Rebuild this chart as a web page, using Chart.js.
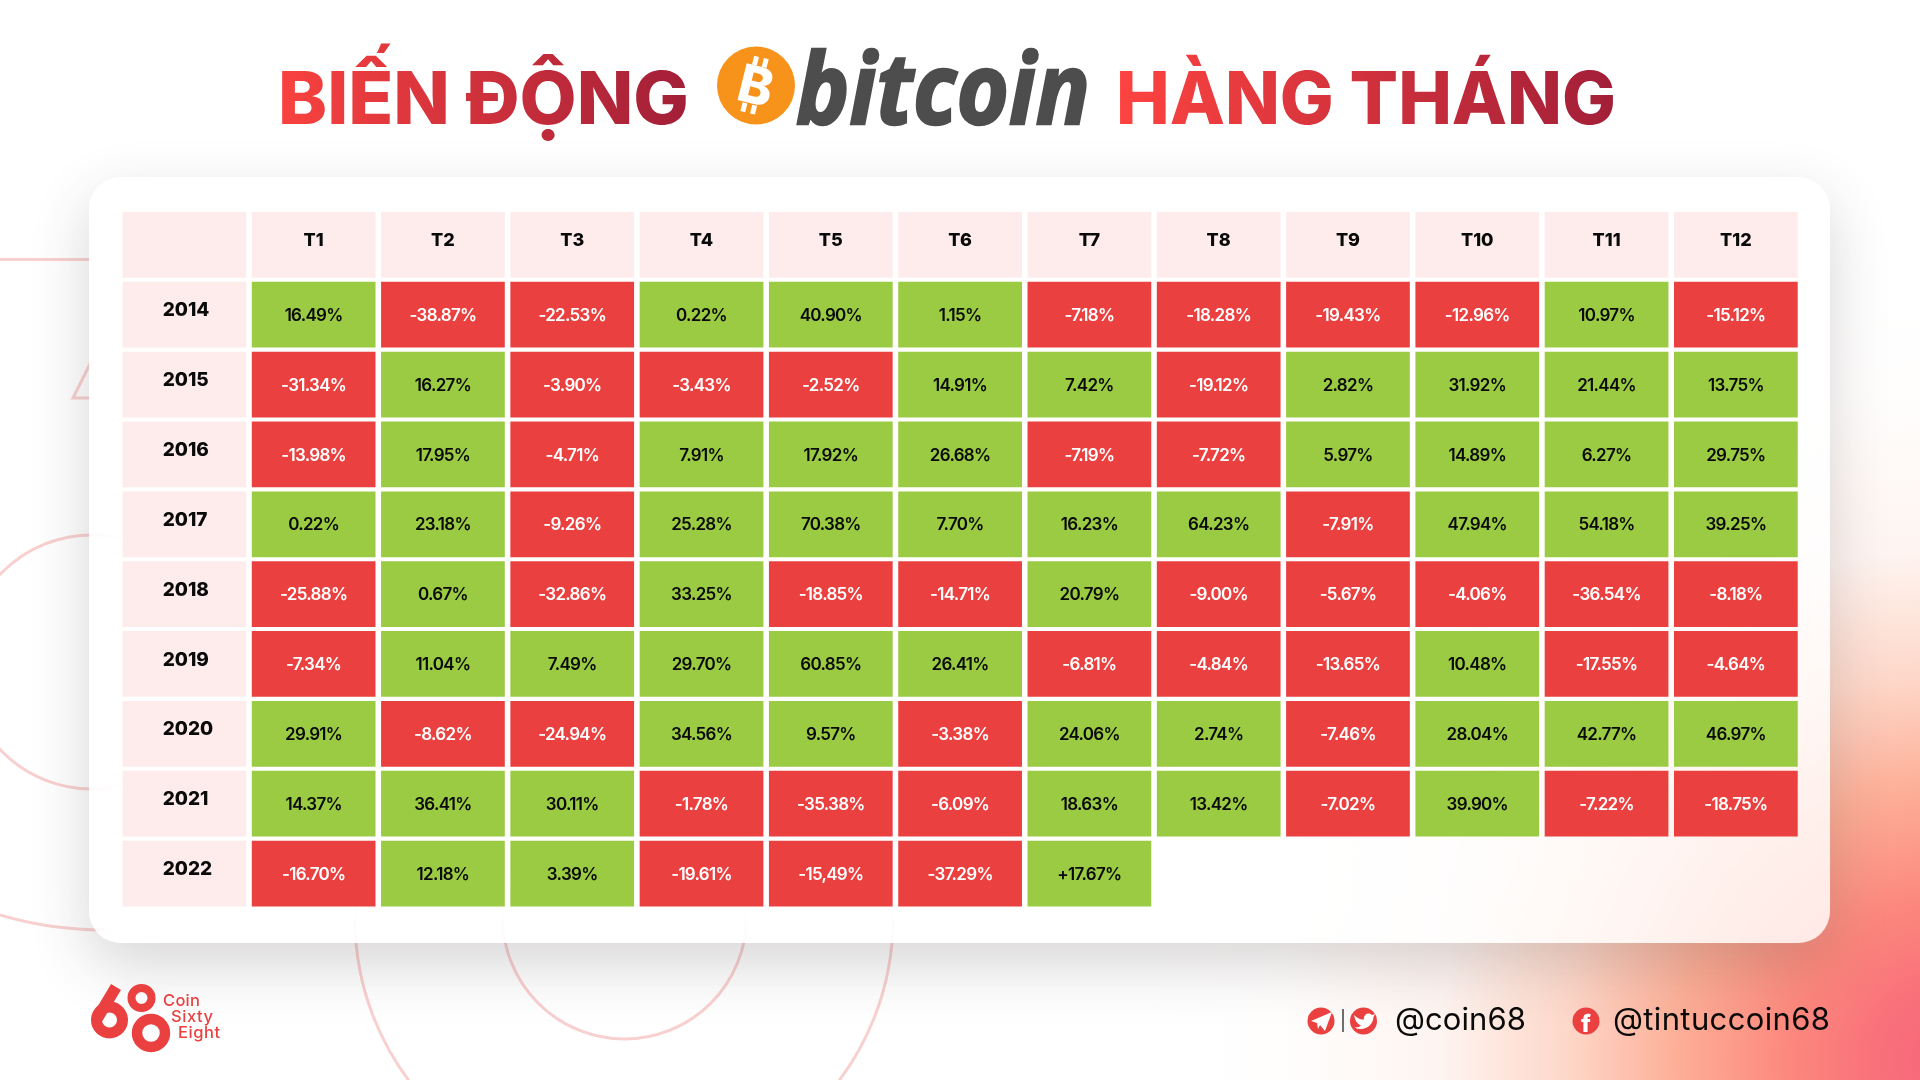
<!DOCTYPE html>
<html lang="vi"><head><meta charset="utf-8"><title>Biến động bitcoin hàng tháng</title>
<script src="https://cdn.jsdelivr.net/npm/chart.js@4"></script>
<style>
html,body{margin:0;padding:0;background:#fff;width:1920px;height:1080px;overflow:hidden}
#bg{position:absolute;left:0;top:0;width:1920px;height:1080px;background:
 radial-gradient(circle 800px at 1950px 1060px,#f7647c 0,#f9727a 10%,#fc8a7e 21%,rgba(253,170,145,.95) 34%,rgba(253,200,180,.72) 48%,rgba(253,225,215,.35) 64%,rgba(255,245,240,.1) 84%,rgba(255,255,255,0) 100%)}
svg.l{position:absolute;left:0;top:0}
#card{position:absolute;left:89px;top:177px;width:1741px;height:766px;border-radius:32px;background:rgba(255,255,255,.8);backdrop-filter:blur(40px);box-shadow:0 22px 60px rgba(60,50,50,.2),0 0 1px rgba(255,255,255,.4)}
#c{position:absolute;left:0;top:0}
</style></head><body>
<div id="bg"></div>
<svg class="l" width="1920" height="1080" fill="none" stroke="#f9d0d0" stroke-width="3">
 <line x1="0" y1="259.5" x2="95" y2="259.5"/>
 <polyline points="92,360 73,398 95,398"/>
 <circle cx="92" cy="662" r="127"/>
 <path d="M0 915 Q50 930 105 930"/>
 <circle cx="624" cy="919" r="269"/>
 <circle cx="624.5" cy="917" r="122"/>
</svg>
<div id="card"></div>
<canvas id="c" width="1920" height="1080" style="width:1920px;height:1080px"></canvas>
<svg class="l" width="1920" height="1080">
 <defs>
  <linearGradient id="g1" gradientUnits="userSpaceOnUse" x1="280" y1="0" x2="687" y2="0"><stop offset="0" stop-color="#f9423f"/><stop offset="1" stop-color="#a21f38"/></linearGradient>
  <linearGradient id="g2" gradientUnits="userSpaceOnUse" x1="1119" y1="0" x2="1615" y2="0"><stop offset="0" stop-color="#fd4340"/><stop offset="1" stop-color="#a21f38"/></linearGradient>
 </defs>
 <g font-family="Inter" font-weight="800" font-size="73">
  <text x="278" y="123.5" fill="url(#g1)" textLength="411" lengthAdjust="spacingAndGlyphs">BIẾN ĐỘNG</text>
  <text x="1116" y="123.5" fill="url(#g2)" textLength="500" lengthAdjust="spacingAndGlyphs">HÀNG THÁNG</text>
 </g>
 <circle cx="756" cy="85.5" r="39" fill="#f7931a"/>
 <g transform="rotate(14 756 85.5)" fill="#fff">
  <text x="756" y="104" text-anchor="middle" font-family="Inter" font-weight="800" font-size="52">B</text>
  <rect x="747" y="57" width="5" height="9"/><rect x="757" y="57" width="5" height="9"/>
  <rect x="747" y="105" width="5" height="9"/><rect x="757" y="105" width="5" height="9"/>
 </g>
 <text x="796" y="124" fill="#4d4d4d" stroke="#4d4d4d" stroke-width="2.5" font-family="Open Sans" font-style="italic" font-weight="700" font-size="98" textLength="294" lengthAdjust="spacingAndGlyphs">bitcoin</text>

 <g fill="none" stroke="#ea4040">
  <circle cx="109.5" cy="1020" r="13" stroke-width="11"/>
  <path d="M97.5 1018 L116 987" stroke-width="11.5"/>
  <circle cx="141.5" cy="998" r="10" stroke-width="8"/>
  <circle cx="151" cy="1033" r="14" stroke-width="10.5"/>
 </g>
 <g fill="#ea4040" font-family="Inter" font-weight="500" font-size="16.5">
  <text x="163" y="1006" textLength="37">Coin</text>
  <text x="171" y="1022" textLength="42">Sixty</text>
  <text x="178" y="1037.5" textLength="42">Eight</text>
 </g>

 <circle cx="1321" cy="1021" r="13.5" fill="#ea4040"/>
 <path d="M1311 1021 L1332 1012 L1325 1031 L1320 1025 L1318 1029 L1317 1023 Z" fill="#fff"/>
 <line x1="1343" y1="1009" x2="1343" y2="1032" stroke="#222" stroke-width="1.3"/>
 <circle cx="1363.5" cy="1021" r="13.5" fill="#ea4040"/>
 <path d="M1354 1015 C1358 1019 1361 1019.500 1364 1019.500 C1363 1014 1369 1011.500 1372 1015 L1375 1014 L1373.500 1017 C1373 1026 1364 1032 1354.500 1027.500 C1358 1027.500 1360 1026.500 1361 1025.500 C1357 1024 1355 1020 1354 1015Z" fill="#fff"/>
 <circle cx="1586" cy="1021" r="13.5" fill="#ea4040"/>
 <text x="1586" y="1031.500" text-anchor="middle" fill="#fff" font-family="Inter" font-weight="800" font-size="24">f</text>
 <g fill="#0a0a0a" font-family="Inter" font-weight="400" font-size="31">
  <text x="1395" y="1030" textLength="131">@coin68</text>
  <text x="1613" y="1030" textLength="217">@tintuccoin68</text>
 </g>
</svg>
<script>
const cellFont = 'Inter';
const months = ['T1','T2','T3','T4','T5','T6','T7','T8','T9','T10','T11','T12'];
const years = ['2014','2015','2016','2017','2018','2019','2020','2021','2022'];
const v2014 = [16.49,-38.87,-22.53,0.22,40.90,1.15,-7.18,-18.28,-19.43,-12.96,10.97,-15.12];
const v2015 = [-31.34,16.27,-3.90,-3.43,-2.52,14.91,7.42,-19.12,2.82,31.92,21.44,13.75];
const v2016 = [-13.98,17.95,-4.71,7.91,17.92,26.68,-7.19,-7.72,5.97,14.89,6.27,29.75];
const v2017 = [0.22,23.18,-9.26,25.28,70.38,7.70,16.23,64.23,-7.91,47.94,54.18,39.25];
const v2018 = [-25.88,0.67,-32.86,33.25,-18.85,-14.71,20.79,-9.00,-5.67,-4.06,-36.54,-8.18];
const v2019 = [-7.34,11.04,7.49,29.70,60.85,26.41,-6.81,-4.84,-13.65,10.48,-17.55,-4.64];
const v2020 = [29.91,-8.62,-24.94,34.56,9.57,-3.38,24.06,2.74,-7.46,28.04,42.77,46.97];
const v2021 = [14.37,36.41,30.11,-1.78,-35.38,-6.09,18.63,13.42,-7.02,39.90,-7.22,-18.75];
const v2022 = [-16.70,12.18,3.39,-19.61,-15.49,-37.29,17.67];
const rows = [v2014,v2015,v2016,v2017,v2018,v2019,v2020,v2021,v2022];
const RED='#ea4040', GREEN='#9acb42', PINK='#feecec';
const halfCell = 0.4706;
function fmt(v,r,c){
  if(r===8 && c===4) return v.toFixed(2).replace('.',',')+'%'; // printed with a comma in the source
  if(r===8 && c===6) return '+'+v.toFixed(2)+'%';              // printed with a plus in the source
  return v.toFixed(2)+'%';
}
const rowDatasets = rows.map((vals,r)=>({
  label: years[r],
  data: vals.map((v,c)=>({x:months[c], y:[r-halfCell,r+halfCell], text: fmt(v,r,c)})),
  backgroundColor: vals.map(v=>v<0?RED:GREEN),
  textColor: vals.map(v=>v<0?'#ffffff':'#0a0a0a')
}));
const headerDataset = {label:'header',
  data:['',...months].map(m=>({x:m,y:[-1-halfCell,-1+halfCell]})),backgroundColor:PINK};
const yearDataset = {label:'years',
  data:years.map((_,r)=>({x:'',y:[r-halfCell,r+halfCell]})),backgroundColor:PINK};
const cellText = {id:'cellText',afterDatasetsDraw(chart){
  const ctx=chart.ctx;ctx.save();
  ctx.font='600 17px '+cellFont;ctx.letterSpacing='-0.7px';ctx.textAlign='center';ctx.textBaseline='middle';
  chart.data.datasets.forEach((ds,i)=>{
    if(!ds.textColor) return;
    chart.getDatasetMeta(i).data.forEach((bar,j)=>{
      const p=bar.getProps(['x','y','base'],true);
      ctx.fillStyle=ds.textColor[j];
      ctx.fillText(ds.data[j].text,p.x,(p.y+p.base)/2+1);
    });
  });
  ctx.restore();
}};
new Chart(document.getElementById('c'),{
  type:'bar',
  data:{labels:['',...months],datasets:[headerDataset,yearDataset,...rowDatasets]},
  plugins:[cellText],
  options:{
    responsive:false,animation:false,devicePixelRatio:1,
    layout:{padding:{left:119.7,right:119.5,top:209.9,bottom:171.5}},
    plugins:{legend:{display:false},tooltip:{enabled:false},title:{display:false}},
    datasets:{bar:{grouped:false,categoryPercentage:1,barPercentage:0.957,borderWidth:0}},
    scales:{
      x:{type:'category',position:'top',
        grid:{display:false,drawTicks:false},border:{display:false},
        afterFit(s){s.height=0;},
        ticks:{z:1,mirror:true,autoSkip:false,maxRotation:0,minRotation:0,padding:20,color:'#0a0a0a',font:{family:'Inter',weight:'800',size:18}}},
      y:{type:'linear',reverse:true,min:-1.5,max:8.5,position:'left',
        grid:{display:false,drawTicks:false},border:{display:false},
        afterFit(s){s.width=0;},
        afterBuildTicks(s){s.ticks=years.map((_,i)=>({value:i-0.06}));},
        ticks:{z:1,mirror:true,autoSkip:false,padding:43,color:'#0a0a0a',
          font:{family:'Inter',weight:'800',size:19},
          callback:v=>years[Math.round(v)]}}
    }
  }
});
</script>
</body></html>
